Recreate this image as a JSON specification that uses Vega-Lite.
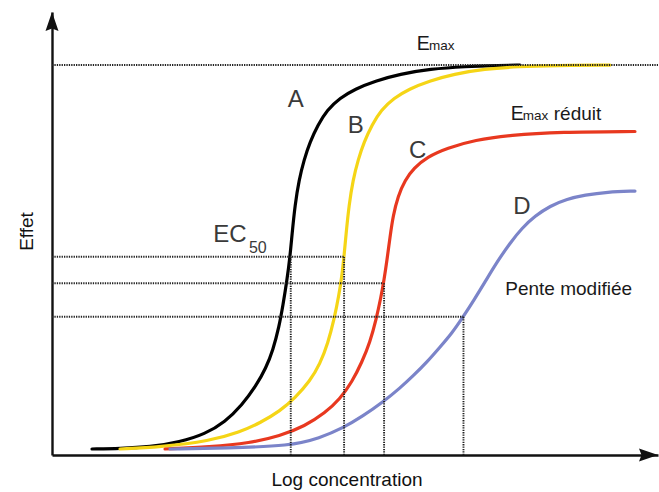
{
  "$schema": "https://vega.github.io/schema/vega-lite/v6.json",
  "width": 606,
  "height": 443,
  "autosize": {"type": "none"},
  "padding": {"left": 52, "top": 12, "right": 1, "bottom": 37},
  "background": "white",
  "config": {"view": {"stroke": null}, "font": "Liberation Sans"},
  "datasets": {
    "courbes": [
      {"courbe": "A", "x": 0.660, "y": 1.54}, {"courbe": "A", "x": 1.122, "y": 1.67}, {"courbe": "A", "x": 1.617, "y": 2.05},
      {"courbe": "A", "x": 2.112, "y": 3.33}, {"courbe": "A", "x": 2.525, "y": 5.38}, {"courbe": "A", "x": 2.855, "y": 8.46},
      {"courbe": "A", "x": 3.135, "y": 12.82}, {"courbe": "A", "x": 3.366, "y": 17.69}, {"courbe": "A", "x": 3.531, "y": 22.31},
      {"courbe": "A", "x": 3.647, "y": 26.92}, {"courbe": "A", "x": 3.746, "y": 32.82}, {"courbe": "A", "x": 3.812, "y": 38.46},
      {"courbe": "A", "x": 3.878, "y": 44.87}, {"courbe": "A", "x": 3.927, "y": 50.77}, {"courbe": "A", "x": 3.960, "y": 56.41},
      {"courbe": "A", "x": 4.010, "y": 64.10}, {"courbe": "A", "x": 4.076, "y": 70.51}, {"courbe": "A", "x": 4.158, "y": 75.64},
      {"courbe": "A", "x": 4.257, "y": 80.26}, {"courbe": "A", "x": 4.389, "y": 84.62}, {"courbe": "A", "x": 4.538, "y": 88.46},
      {"courbe": "A", "x": 4.752, "y": 91.54}, {"courbe": "A", "x": 5.000, "y": 93.85}, {"courbe": "A", "x": 5.330, "y": 95.90},
      {"courbe": "A", "x": 5.743, "y": 97.69}, {"courbe": "A", "x": 6.238, "y": 98.97}, {"courbe": "A", "x": 6.815, "y": 99.62},
      {"courbe": "A", "x": 7.393, "y": 99.87}, {"courbe": "A", "x": 7.723, "y": 100},
      {"courbe": "B", "x": 1.122, "y": 1.54}, {"courbe": "B", "x": 1.782, "y": 2.05}, {"courbe": "B", "x": 2.607, "y": 3.59},
      {"courbe": "B", "x": 3.102, "y": 5.90}, {"courbe": "B", "x": 3.432, "y": 8.21}, {"courbe": "B", "x": 3.762, "y": 11.28},
      {"courbe": "B", "x": 4.010, "y": 14.62}, {"courbe": "B", "x": 4.257, "y": 18.97}, {"courbe": "B", "x": 4.422, "y": 23.33},
      {"courbe": "B", "x": 4.554, "y": 28.72}, {"courbe": "B", "x": 4.653, "y": 34.62}, {"courbe": "B", "x": 4.736, "y": 41.03},
      {"courbe": "B", "x": 4.785, "y": 46.15}, {"courbe": "B", "x": 4.818, "y": 50.77}, {"courbe": "B", "x": 4.851, "y": 56.41},
      {"courbe": "B", "x": 4.901, "y": 64.10}, {"courbe": "B", "x": 4.967, "y": 70.51}, {"courbe": "B", "x": 5.050, "y": 75.64},
      {"courbe": "B", "x": 5.149, "y": 80.26}, {"courbe": "B", "x": 5.281, "y": 84.62}, {"courbe": "B", "x": 5.429, "y": 88.46},
      {"courbe": "B", "x": 5.644, "y": 91.54}, {"courbe": "B", "x": 5.891, "y": 93.85}, {"courbe": "B", "x": 6.221, "y": 95.90},
      {"courbe": "B", "x": 6.634, "y": 97.69}, {"courbe": "B", "x": 7.129, "y": 98.97}, {"courbe": "B", "x": 7.706, "y": 99.62},
      {"courbe": "B", "x": 8.284, "y": 99.87}, {"courbe": "B", "x": 9.208, "y": 100},
      {"courbe": "C", "x": 1.865, "y": 1.54}, {"courbe": "C", "x": 2.607, "y": 2.05}, {"courbe": "C", "x": 3.267, "y": 3.08},
      {"courbe": "C", "x": 3.762, "y": 4.87}, {"courbe": "C", "x": 4.175, "y": 7.44}, {"courbe": "C", "x": 4.505, "y": 10.77},
      {"courbe": "C", "x": 4.752, "y": 14.36}, {"courbe": "C", "x": 4.950, "y": 18.72}, {"courbe": "C", "x": 5.116, "y": 23.85},
      {"courbe": "C", "x": 5.248, "y": 28.97}, {"courbe": "C", "x": 5.347, "y": 34.62}, {"courbe": "C", "x": 5.429, "y": 40.51},
      {"courbe": "C", "x": 5.479, "y": 44.87}, {"courbe": "C", "x": 5.528, "y": 50.00}, {"courbe": "C", "x": 5.578, "y": 55.90},
      {"courbe": "C", "x": 5.627, "y": 61.28}, {"courbe": "C", "x": 5.710, "y": 66.41}, {"courbe": "C", "x": 5.825, "y": 70.51},
      {"courbe": "C", "x": 5.974, "y": 73.59}, {"courbe": "C", "x": 6.188, "y": 76.41}, {"courbe": "C", "x": 6.518, "y": 78.72},
      {"courbe": "C", "x": 6.980, "y": 80.77}, {"courbe": "C", "x": 7.558, "y": 82.05}, {"courbe": "C", "x": 8.383, "y": 82.82},
      {"courbe": "C", "x": 9.620, "y": 82.95},
      {"courbe": "D", "x": 1.947, "y": 1.54}, {"courbe": "D", "x": 2.888, "y": 1.79}, {"courbe": "D", "x": 3.927, "y": 2.31},
      {"courbe": "D", "x": 4.422, "y": 4.36}, {"courbe": "D", "x": 4.802, "y": 6.92}, {"courbe": "D", "x": 5.132, "y": 10.00},
      {"courbe": "D", "x": 5.462, "y": 13.59}, {"courbe": "D", "x": 5.743, "y": 17.18}, {"courbe": "D", "x": 5.957, "y": 20.26},
      {"courbe": "D", "x": 6.188, "y": 23.85}, {"courbe": "D", "x": 6.403, "y": 27.69}, {"courbe": "D", "x": 6.601, "y": 31.28},
      {"courbe": "D", "x": 6.782, "y": 35.38}, {"courbe": "D", "x": 6.964, "y": 39.74}, {"courbe": "D", "x": 7.145, "y": 44.36},
      {"courbe": "D", "x": 7.343, "y": 49.49}, {"courbe": "D", "x": 7.558, "y": 54.36}, {"courbe": "D", "x": 7.756, "y": 58.21},
      {"courbe": "D", "x": 7.970, "y": 61.28}, {"courbe": "D", "x": 8.218, "y": 63.85}, {"courbe": "D", "x": 8.498, "y": 65.64},
      {"courbe": "D", "x": 8.795, "y": 66.67}, {"courbe": "D", "x": 9.158, "y": 67.44}, {"courbe": "D", "x": 9.620, "y": 67.69}
    ],
    "pointilles": [
      {"x": 0, "x2": 10, "y": 100, "y2": 100},
      {"x": 0, "x2": 4.82, "y": 50.85, "y2": 50.85},
      {"x": 0, "x2": 5.46, "y": 44.03, "y2": 44.03},
      {"x": 0, "x2": 6.79, "y": 35.46, "y2": 35.46},
      {"x": 3.94, "x2": 3.94, "y": 0, "y2": 50.85},
      {"x": 4.82, "x2": 4.82, "y": 0, "y2": 50.85},
      {"x": 5.48, "x2": 5.48, "y": 0, "y2": 44.03},
      {"x": 6.79, "x2": 6.79, "y": 0, "y2": 35.46}
    ],
    "fleches": [
      {"axe": "Effet", "x": 0, "y": 113.6, "angle": 0},
      {"axe": "Log concentration", "x": 10, "y": 0, "angle": 90}
    ],
    "textes": [
      {"texte": "A", "type": "lettre", "x": 3.89, "y": 89.2},
      {"texte": "B", "type": "lettre", "x": 4.88, "y": 82.6},
      {"texte": "C", "type": "lettre", "x": 5.89, "y": 76.2},
      {"texte": "D", "type": "lettre", "x": 7.61, "y": 61.8},
      {"texte": "EC", "type": "lettre", "x": 2.66, "y": 54.6},
      {"texte": "50", "type": "indice", "x": 3.25, "y": 51.8},
      {"texte": "E", "type": "E", "x": 6.02, "y": 103.8},
      {"texte": "max", "type": "max", "x": 6.22, "y": 103.8},
      {"texte": "E", "type": "E", "x": 7.57, "y": 85.9},
      {"texte": "max", "type": "max", "x": 7.77, "y": 85.9},
      {"texte": "réduit", "type": "note", "x": 8.28, "y": 85.9},
      {"texte": "Pente modifiée", "type": "note", "x": 7.48, "y": 41.0}
    ]
  },
  "layer": [
    {
      "data": {"name": "courbes"},
      "mark": {"type": "line", "interpolate": "basis", "strokeWidth": 3.2, "strokeCap": "round", "clip": false},
      "encoding": {
        "x": {"field": "x", "type": "quantitative", "scale": {"domain": [0, 10], "nice": false, "zero": false},
              "axis": {"title": "Log concentration", "ticks": false, "labels": false, "grid": false,
                       "domainColor": "#111", "domainWidth": 2.4, "titleFontSize": 19, "titleFont": "Liberation Sans",
                       "titleFontWeight": "normal", "titleColor": "#111", "titleX": 294.5, "titleY": 30,
                       "titleBaseline": "alphabetic", "titleAlign": "center"}},
        "y": {"field": "y", "type": "quantitative", "scale": {"domain": [0, 113.6], "nice": false, "zero": false},
              "axis": {"title": "Effet", "ticks": false, "labels": false, "grid": false,
                       "domainColor": "#111", "domainWidth": 2.4, "titleFontSize": 19, "titleFont": "Liberation Sans",
                       "titleFontWeight": "normal", "titleColor": "#111", "titleX": -20, "titleY": 219,
                       "titleAngle": -90, "titleBaseline": "alphabetic", "titleAlign": "center"}},
        "color": {"field": "courbe", "type": "nominal", "legend": null,
                  "scale": {"domain": ["A", "B", "C", "D"], "range": ["#000000", "#f5d516", "#e8381f", "#7b84c9"]}}
      }
    },
    {
      "data": {"name": "pointilles"},
      "mark": {"type": "rule", "color": "#222222", "strokeWidth": 1.9, "strokeDash": [1.3, 1.1]},
      "encoding": {
        "x": {"field": "x", "type": "quantitative"},
        "x2": {"field": "x2"},
        "y": {"field": "y", "type": "quantitative"},
        "y2": {"field": "y2"}
      }
    },
    {
      "data": {"name": "fleches"},
      "mark": {"type": "point", "filled": true, "color": "#111", "opacity": 1, "size": 400,
               "shape": "M0,0L0.65,1.9L0,1.65L-0.65,1.9Z"},
      "encoding": {
        "x": {"field": "x", "type": "quantitative"},
        "y": {"field": "y", "type": "quantitative"},
        "angle": {"field": "angle", "type": "quantitative", "scale": null}
      }
    },
    {
      "data": {"name": "textes"},
      "transform": [{"filter": "datum.type === 'lettre'"}],
      "mark": {"type": "text", "align": "left", "baseline": "alphabetic", "fontSize": 24, "color": "#3a3a3a", "font": "Liberation Sans"},
      "encoding": {"x": {"field": "x", "type": "quantitative"}, "y": {"field": "y", "type": "quantitative"}, "text": {"field": "texte"}}
    },
    {
      "data": {"name": "textes"},
      "transform": [{"filter": "datum.type === 'indice'"}],
      "mark": {"type": "text", "align": "left", "baseline": "alphabetic", "fontSize": 16, "color": "#3a3a3a", "font": "Liberation Sans"},
      "encoding": {"x": {"field": "x", "type": "quantitative"}, "y": {"field": "y", "type": "quantitative"}, "text": {"field": "texte"}}
    },
    {
      "data": {"name": "textes"},
      "transform": [{"filter": "datum.type === 'E'"}],
      "mark": {"type": "text", "align": "left", "baseline": "alphabetic", "fontSize": 19.5, "color": "#1a1a1a", "font": "Liberation Sans"},
      "encoding": {"x": {"field": "x", "type": "quantitative"}, "y": {"field": "y", "type": "quantitative"}, "text": {"field": "texte"}}
    },
    {
      "data": {"name": "textes"},
      "transform": [{"filter": "datum.type === 'max'"}],
      "mark": {"type": "text", "align": "left", "baseline": "alphabetic", "fontSize": 13.5, "color": "#1a1a1a", "font": "Liberation Sans"},
      "encoding": {"x": {"field": "x", "type": "quantitative"}, "y": {"field": "y", "type": "quantitative"}, "text": {"field": "texte"}}
    },
    {
      "data": {"name": "textes"},
      "transform": [{"filter": "datum.type === 'note'"}],
      "mark": {"type": "text", "align": "left", "baseline": "alphabetic", "fontSize": 19, "color": "#1a1a1a", "font": "Liberation Sans"},
      "encoding": {"x": {"field": "x", "type": "quantitative"}, "y": {"field": "y", "type": "quantitative"}, "text": {"field": "texte"}}
    }
  ]
}
